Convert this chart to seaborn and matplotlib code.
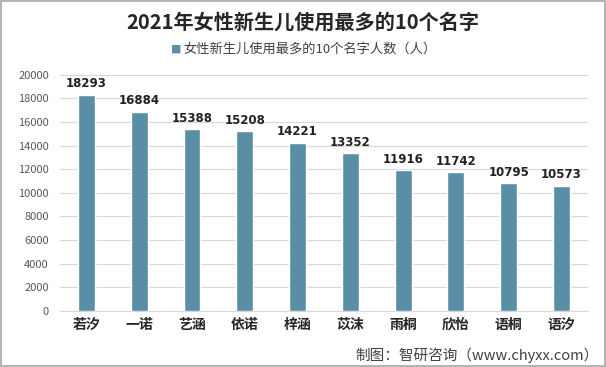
import pandas as pd
import matplotlib.pyplot as plt
import seaborn as sns

names = ['若汐', '一诺', '艺涵', '依诺', '梓涵', '苡沫', '雨桐', '欣怡', '语桐', '语汐']
counts = [18293, 16884, 15388, 15208, 14221, 13352, 11916, 11742, 10795, 10573]
yticks = list(range(0, 20001, 2000))

df = pd.DataFrame({'name': names, 'count': counts})

sns.set_style('white')
plt.rcParams['font.family'] = ['Noto Sans CJK SC', 'DejaVu Sans']

fig = plt.figure(figsize=(6.06, 3.67), dpi=100)
ax = fig.add_axes([0.099, 0.153, 0.871, 0.643])

sns.barplot(data=df, x='name', y='count', color='#5a8ea7', width=0.32,
            saturation=1, ax=ax, zorder=3)

for i, v in enumerate(counts):
    ax.text(i, v + 400, str(v), ha='center', va='bottom', fontsize=8.5,
            fontweight='bold', color='#222222', family='DejaVu Sans')

ax.set_ylim(0, 20000)
ax.set_yticks(yticks)
ax.set_yticklabels([str(t) for t in yticks], fontsize=8, color='#595959')
ax.grid(axis='y', color='#d9d9d9', linewidth=0.8, zorder=0)
ax.tick_params(axis='x', labelsize=10, length=0, pad=5)
ax.tick_params(axis='y', length=0, pad=8)
for lab in ax.get_xticklabels():
    lab.set_fontweight('bold')
    lab.set_color('#262626')
ax.set_xlabel('')
ax.set_ylabel('')
sns.despine(ax=ax, left=True, top=True, right=True)
ax.spines['bottom'].set_color('#d9d9d9')

fig.text(0.5, 0.94, '2021年女性新生儿使用最多的10个名字', ha='center', va='center',
         fontsize=14.5, fontweight='bold', color='#262626')
fig.text(0.29, 0.865, '■', ha='center', va='center', fontsize=7.5, color='#5a8ea7')
fig.text(0.303, 0.865, '女性新生儿使用最多的10个名字人数（人）', ha='left', va='center',
         fontsize=9.5, color='#404040')
fig.text(0.988, 0.032, '制图：智研咨询（www.chyxx.com）', ha='right', va='center',
         fontsize=10.5, color='#404040')

fig.patches.append(plt.Rectangle((0.002, 0.003), 0.996, 0.994, transform=fig.transFigure,
                                 fill=False, edgecolor='#a6a6a6', linewidth=1.2))

fig.savefig('out.png', dpi=100)
